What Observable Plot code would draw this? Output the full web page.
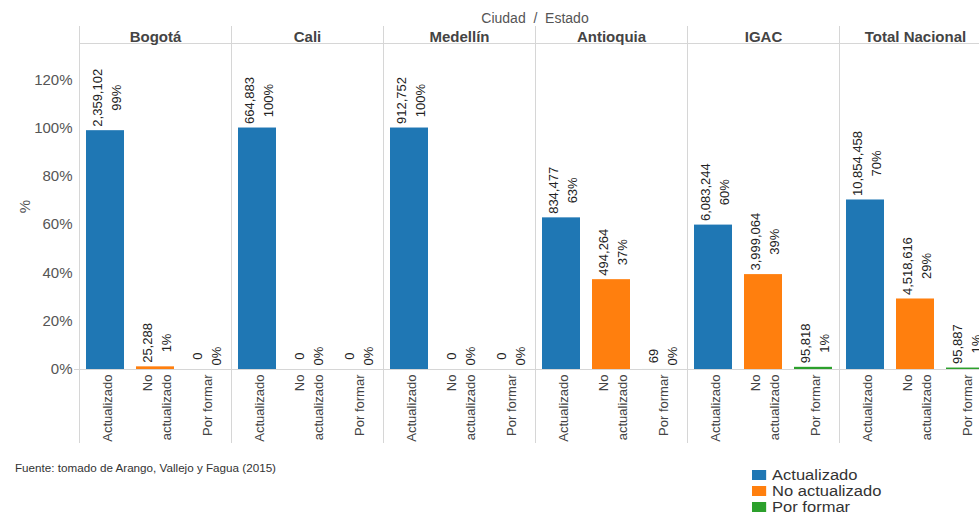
<!DOCTYPE html>
<html><head><meta charset="utf-8">
<script src="https://cdn.jsdelivr.net/npm/d3@7"></script>
<script src="https://cdn.jsdelivr.net/npm/@observablehq/plot@0.6"></script>
<style>
html,body{margin:0;padding:0;background:#fff;overflow:hidden;}
#wrap{position:relative;width:979px;height:514px;overflow:hidden;font-family:"Liberation Sans",Arial,sans-serif;}
#chart{position:absolute;left:0;top:0;}
#header{position:absolute;left:435px;width:200px;top:10px;text-align:center;font-size:14px;color:#555;white-space:pre;}
#caption{position:absolute;left:15px;top:462px;font-size:11px;color:#333;transform:scaleX(1.06);transform-origin:left center;}
#legend{position:absolute;left:752px;top:467px;font-size:14px;color:#333;transform:scaleX(1.18);transform-origin:left center;}
.item{display:flex;align-items:center;height:16px;}
.sw{width:12px;height:10px;margin-right:5px;}
</style></head><body>
<div id="wrap"><div id="chart"></div><div id="header">Ciudad  /  Estado</div><div id="caption">Fuente: tomado de Arango, Vallejo y Fagua (2015)</div><div id="legend"></div></div>
<script>
const ciudades = ["Bogotá", "Cali", "Medellín", "Antioquia", "IGAC", "Total Nacional"];
const estados = ["Actualizado", "No actualizado", "Por formar"];
const xTickLabels = ["Actualizado", "No\nactualizado", "Por formar"];
const colores = ["#1f77b4", "#ff7f0e", "#2ca02c"];
const actualizadoCount = [2359102, 664883, 912752, 834477, 6083244, 10854458];
const actualizadoPct = [0.989, 1.0, 1.0, 0.628, 0.598, 0.702];
const noActualizadoCount = [25288, 0, 0, 494264, 3999064, 4518616];
const noActualizadoPct = [0.011, 0, 0, 0.372, 0.393, 0.292];
const porFormarCount = [0, 0, 0, 69, 95818, 95887];
const porFormarPct = [0, 0, 0, 0.0001, 0.009, 0.006];
const yTicks = [0, 0.2, 0.4, 0.6, 0.8, 1.0, 1.2];

const counts = [actualizadoCount, noActualizadoCount, porFormarCount];
const pcts = [actualizadoPct, noActualizadoPct, porFormarPct];
const rows = [];
ciudades.forEach((c, i) => estados.forEach((e, j) => rows.push({ciudad: c, estado: e, count: counts[j][i], pct: pcts[j][i]})));
const fmt = d3.format(",");
const line = "#d6d6d6";

const chart = Plot.plot({
  width: 993, height: 445,
  marginLeft: 77, marginRight: 0, marginTop: 43, marginBottom: 76,
  style: {fontFamily: "Liberation Sans, Arial, sans-serif", background: "white", maxWidth: "none", overflow: "visible"},
  fx: {domain: ciudades, padding: 0},
  x: {domain: estados, paddingInner: 0.25, paddingOuter: 0.125},
  y: {domain: [0, 1.35]},
  color: {domain: estados, range: colores},
  marks: [
    Plot.frame({anchor: "left", stroke: line, insetTop: -17, insetBottom: -73}),
    Plot.frame({anchor: "top", stroke: line}),
    Plot.ruleY([0], {stroke: line, insetLeft: -5}),
    Plot.barY(rows, {fx: "ciudad", x: "estado", y: "pct", fill: "estado"}),
    Plot.text(rows, {fx: "ciudad", x: "estado", y: "pct",
      text: d => fmt(d.count) + "\n" + Math.round(d.pct * 100) + "%",
      rotate: -90, textAnchor: "start", lineAnchor: "middle", lineHeight: 1.45, dy: -4, fontSize: 13, fill: "#222"}),
    Plot.axisFx({anchor: "top", tickSize: 0, tickPadding: 2, fontSize: 15, fontWeight: "bold", fill: "#444", label: null}),
    Plot.axisX({anchor: "bottom", tickSize: 0, tickPadding: 5, tickRotate: -90,
      tickFormat: d => xTickLabels[estados.indexOf(d)], fontSize: 13, fill: "#444", label: null,
      textAnchor: "end", lineAnchor: "middle", lineHeight: 1.5}),
    Plot.axisY({ticks: yTicks, tickFormat: d => Math.round(d * 100) + "%", tickSize: 0, tickPadding: 7,
      fontSize: 15, fill: "#555", label: "%", labelAnchor: "center", labelArrow: "none", labelOffset: 60})
  ]
});
document.getElementById("chart").appendChild(chart);

// center the two lines of each value label relative to each other
chart.querySelectorAll('g[aria-label="text"] text').forEach(t => {
  const spans = Array.from(t.querySelectorAll("tspan"));
  if (!spans.length) return;
  const L = spans.map(s => s.getComputedTextLength());
  const m = Math.max(...L);
  spans.forEach((s, i) => s.setAttribute("x", (m - L[i]) / 2));
});

const leg = d3.select("#legend");
estados.forEach((e, i) => {
  const it = leg.append("div").attr("class", "item");
  it.append("div").attr("class", "sw").style("background", colores[i]);
  it.append("span").text(e);
});
</script>
</body></html>
